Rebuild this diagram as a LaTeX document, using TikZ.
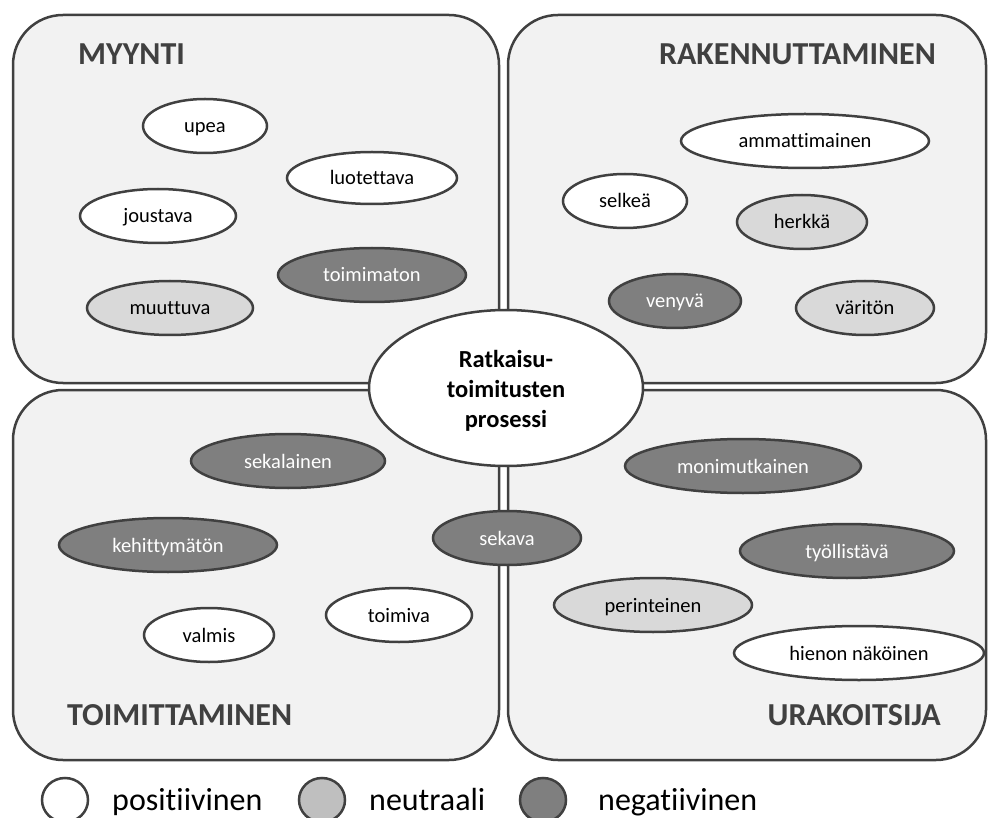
\documentclass[tikz,border=0pt]{standalone}
\usepackage{fontspec}
\setmainfont{Carlito}[Ligatures=NoCommon]
\usetikzlibrary{shapes.geometric}
\definecolor{edge}{HTML}{404040}
\definecolor{panelfill}{HTML}{F2F2F2}
\definecolor{posfill}{HTML}{FFFFFF}
\definecolor{neufill}{HTML}{D9D9D9}
\definecolor{negfill}{HTML}{7F7F7F}
\definecolor{legneu}{HTML}{BFBFBF}
\begin{document}
\begin{tikzpicture}[x=1pt,y=-1pt,
  panel/.style={draw=edge,line width=2.5pt,fill=panelfill,rounded corners=50pt},
  paneltitle/.style={text=edge,font=\fontsize{32}{38}\selectfont\bfseries,inner sep=0pt},
  word/.style={ellipse,draw=edge,line width=2.5pt,inner sep=0pt,
    text height=14pt,text depth=0pt,
    font=\fontsize{20.5}{24}\selectfont},
  posword/.style={word,fill=posfill,text=black},
  neuword/.style={word,fill=neufill,text=black},
  negword/.style={word,fill=negfill,text=white},
  legmark/.style={ellipse,draw=edge,line width=2.5pt,inner sep=0pt,
    minimum width=46pt,minimum height=44pt},
  legtext/.style={font=\fontsize{32}{38}\selectfont,inner sep=0pt,text=black}]
\useasboundingbox (0,0) rectangle (988,818);

% four quadrant panels
\draw[panel] (13,15) rectangle (499,383);
\draw[panel] (508,15) rectangle (986,383);
\draw[panel] (13,390) rectangle (499,760);
\draw[panel] (508,390) rectangle (986,760);

% panel titles
\node[paneltitle,anchor=base west] (tmyy) at (78,65) {MYYNTI};
\node[paneltitle,anchor=base east] (trak) at (936,65) {RAKENNUTTAMINEN};
\node[paneltitle,anchor=base west] (ttoi) at (67,725) {TOIMITTAMINEN};
\node[paneltitle,anchor=base east] (tura) at (941,725) {URAKOITSIJA};

% central process
\node[ellipse,draw=edge,line width=2.5pt,fill=white,inner sep=0pt,
  minimum width=274pt,minimum height=156pt] (core) at (506,388) {};
\node[anchor=base,inner sep=0pt,font=\fontsize{24.5}{30}\selectfont\bfseries]
  (coretext) at (core.center |- 0,367)
  {\parbox[t]{200pt}{\centering Ratkaisu-\\toimitusten\\prosessi}};

% MYYNTI
\node[posword,minimum width=124pt,minimum height=54pt] (upea) at (205,126) {upea};
\node[posword,minimum width=170pt,minimum height=52pt] (luot) at (372,178) {luotettava};
\node[posword,minimum width=156pt,minimum height=54pt] (jous) at (158,216) {joustava};
\node[negword,minimum width=188pt,minimum height=54pt] (toimat) at (372,275) {toimimaton};
\node[neuword,minimum width=166pt,minimum height=54pt] (muut) at (170,308) {muuttuva};

% RAKENNUTTAMINEN
\node[posword,minimum width=248pt,minimum height=54pt] (amma) at (805,141) {ammattimainen};
\node[posword,minimum width=124pt,minimum height=54pt] (selk) at (625,201) {selkeä};
\node[neuword,minimum width=130pt,minimum height=54pt] (herk) at (802,222) {herkkä};
\node[negword,minimum width=132pt,minimum height=54pt] (veny) at (675,301) {venyvä};
\node[neuword,minimum width=138pt,minimum height=54pt] (vari) at (865,308) {väritön};

% TOIMITTAMINEN
\node[negword,minimum width=194pt,minimum height=54pt] (seka) at (288,461) {sekalainen};
\node[negword,minimum width=218pt,minimum height=54pt] (kehi) at (168,545) {kehittymätön};
\node[posword,minimum width=146pt,minimum height=54pt] (toiv) at (399,615) {toimiva};
\node[posword,minimum width=130pt,minimum height=54pt] (valm) at (209,635) {valmis};

% on the border
\node[negword,minimum width=148pt,minimum height=54pt] (sekv) at (507,538) {sekava};

% URAKOITSIJA
\node[negword,minimum width=236pt,minimum height=54pt] (moni) at (743,466) {monimutkainen};
\node[negword,minimum width=214pt,minimum height=54pt] (tyol) at (847,551) {työllistävä};
\node[neuword,minimum width=198pt,minimum height=54pt] (peri) at (653,605) {perinteinen};
\node[posword,minimum width=250pt,minimum height=54pt] (hien) at (859,653) {hienon näköinen};

% legend
\node[legmark,fill=posfill] (lpos) at (65,800) {};
\node[legtext,anchor=base west] (lpost) at (112,810) {positiivinen};
\node[legmark,fill=legneu] (lneu) at (322,800) {};
\node[legtext,anchor=base west] (lneut) at (369,810) {neutraali};
\node[legmark,fill=negfill] (lneg) at (543,800) {};
\node[legtext,anchor=base west] (lnegt) at (598,810) {negatiivinen};
\end{tikzpicture}
\end{document}
